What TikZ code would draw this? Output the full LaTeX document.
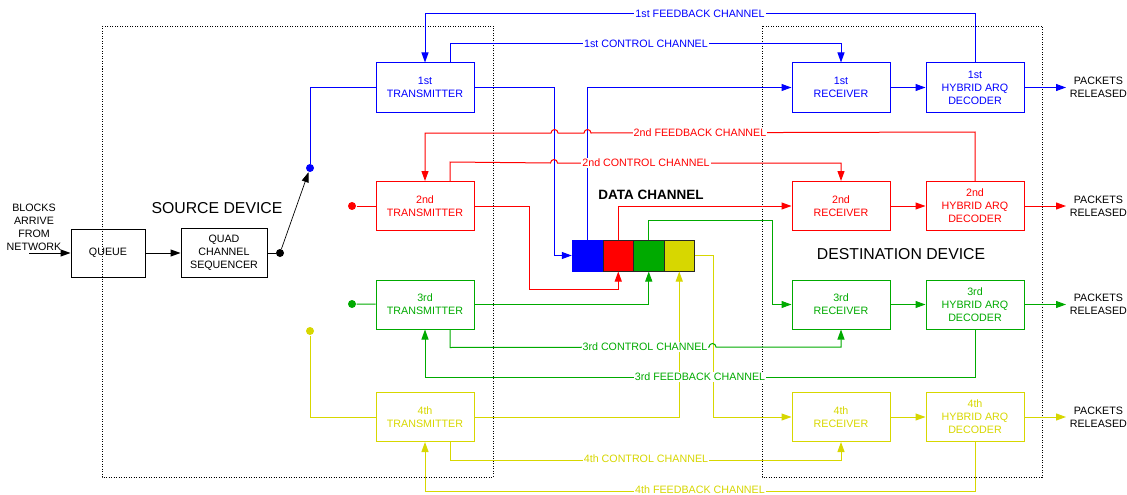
\documentclass[tikz,border=0pt]{standalone}
\usepackage{fontspec}
\setmainfont{Liberation Sans}
\usetikzlibrary{arrows.meta}
\definecolor{chblue}{RGB}{0,0,255}
\definecolor{chred}{RGB}{255,0,0}
\definecolor{chgreen}{RGB}{0,170,0}
\definecolor{chyellow}{RGB}{215,215,0}

\begin{document}
\begin{tikzpicture}[x=1pt,y=-1pt,line width=1pt,
  font=\fontsize{10.7}{13}\selectfont,
  blk/.style={draw,minimum width=98pt,minimum height=49pt,align=center,inner sep=1pt},
  cell/.style={draw=black!85,minimum width=30.5pt,minimum height=31pt,inner sep=0pt},
  arr/.style={-{Triangle[length=10pt,width=7pt]}},
  lab/.style={fill=white,inner sep=1pt},
  big/.style={font=\fontsize{15.8}{18}\selectfont},
  dot/.style={circle,fill,inner sep=0pt,minimum size=8pt}]
\useasboundingbox (0,0) rectangle (1127,495);

% Draw device borders
\draw[dash pattern=on 1pt off 1.5pt,line width=0.8pt] (102,26) rectangle (493,477);
\draw[dash pattern=on 1pt off 1.5pt,line width=0.8pt] (762,26) rectangle (1042,477);
\node[big] (sd) at (217,208) {SOURCE DEVICE};
\node[big] (dd) at (901,254) {DESTINATION DEVICE};

% Queue and sequencer
\node[align=center] (blk) at (34,227.5) {BLOCKS\\ARRIVE\\FROM\\NETWORK};
\coordinate (in) at (29,253);
\node[draw,minimum width=74pt,minimum height=48pt] (q) at (108,253) {QUEUE};
\node[draw,minimum width=86pt,minimum height=49pt,align=center,inner sep=1pt] (seq) at (224,253) {QUAD\\CHANNEL\\SEQUENCER};
\node[dot] (sw) at (280,253) {};
\node[dot,chblue] (p1) at (310,168) {};
\node[dot,chred] (p2) at (352,206) {};
\node[dot,chgreen] (p3) at (352,304) {};
\node[dot,chyellow] (p4) at (310,331) {};
\draw[arr] (in) -- (q);
\draw[arr] (q) -- (seq);
\draw (seq) -- (sw);
\draw[arr,line width=0.7pt] (sw) -- (p1);

% Transmitters
\node[blk,chblue] (tx1) at (425,87.5) {1st\\TRANSMITTER};
\node[blk,chred] (tx2) at (425,206) {2nd\\TRANSMITTER};
\node[blk,chgreen] (tx3) at (425,304.5) {3rd\\TRANSMITTER};
\node[blk,chyellow] (tx4) at (425,417) {4th\\TRANSMITTER};

% Receivers and decoders
\node[blk,chblue] (rx1) at (841,87.5) {1st\\RECEIVER};
\node[blk,chred] (rx2) at (841,206) {2nd\\RECEIVER};
\node[blk,chgreen] (rx3) at (841,304.5) {3rd\\RECEIVER};
\node[blk,chyellow] (rx4) at (841,417) {4th\\RECEIVER};
\node[blk,chblue] (dec1) at (975,87.5) {1st\\HYBRID ARQ\\DECODER};
\node[blk,chred] (dec2) at (975,206) {2nd\\HYBRID ARQ\\DECODER};
\node[blk,chgreen] (dec3) at (975,304.5) {3rd\\HYBRID ARQ\\DECODER};
\node[blk,chyellow] (dec4) at (975,417) {4th\\HYBRID ARQ\\DECODER};
\node[align=center,anchor=west] (out1) at (1066,87.5) {PACKETS\\RELEASED};
\node[align=center,anchor=west] (out2) at (1066,206) {PACKETS\\RELEASED};
\node[align=center,anchor=west] (out3) at (1066,304.5) {PACKETS\\RELEASED};
\node[align=center,anchor=west] (out4) at (1066,417) {PACKETS\\RELEASED};

% Data channel
\node[cell,fill=chblue,draw=chblue] (dc1) at (587.5,255.5) {};
\node[cell,fill=chred] (dc2) at (618.25,255.5) {};
\node[cell,fill=chgreen] (dc3) at (648.75,255.5) {};
\node[cell,fill=chyellow] (dc4) at (679.25,255.5) {};
\node[font=\bfseries\fontsize{13.5}{15}\selectfont] (dch) at (651,195) {DATA CHANNEL};

% Switch outputs
\draw[chblue] (p1) |- (tx1);
\draw[chred] (p2) -- (tx2);
\draw[chgreen] (p3) -- (tx3);
\draw[chyellow] (p4) |- (tx4);

% Into and out of the data channel
\draw[chblue,arr] (tx1.east) -- ++(80,0) |- (dc1.west);
\draw[chblue,arr] (dc1.north) |- (rx1.west);
\draw[chred,arr] (tx2.east) -- ++(55,0) -- ++(0,83) -| (dc2.south);
\draw[chred,arr] (dc2.north) |- (rx2.west);
\draw[chgreen,arr] (tx3.east) -| (dc3.south);
\draw[chgreen,arr] (dc3.north) -- ++(0,-19) -| ([xshift=-19pt]rx3.west) -- (rx3.west);
\draw[chyellow,arr] (tx4.east) -| (dc4.south);
\draw[chyellow,arr] (dc4.east) -- ++(18,0) |- (rx4.west);

% Receiver to decoder to output
\draw[chblue,arr] (rx1) -- (dec1);
\draw[chred,arr] (rx2) -- (dec2);
\draw[chgreen,arr] (rx3) -- (dec3);
\draw[chyellow,arr] (rx4) -- (dec4);
\draw[chblue,arr] (dec1) -- (out1);
\draw[chred,arr] (dec2) -- (out2);
\draw[chgreen,arr] (dec3) -- (out3);
\draw[chyellow,arr] (dec4) -- (out4);

% Control channels
\draw[chblue,arr] ([xshift=25pt]tx1.north) -- ++(0,-19) -| (rx1.north);
\draw[chred,arr] ([xshift=25pt]tx2.north) -- ++(0,-19) -- (550.5,163)
  arc[start angle=180,end angle=0,radius=3.5pt] -| (rx2.north);
\draw[chgreen,arr] ([xshift=25pt]tx3.south) -- ++(0,18) -- (709,347)
  arc[start angle=180,end angle=0,radius=3.5pt] -| (rx3.south);
\draw[chyellow,arr] ([xshift=25pt]tx4.south) -- ++(0,18) -| (rx4.south);

% Feedback channels
\draw[chblue,arr] (dec1.north) -- ++(0,-49) -| (tx1.north);
\draw[chred,arr] (dec2.north) -- ++(0,-49) -- (591,133)
  arc[start angle=0,end angle=180,radius=3.5pt] -- (558,133)
  arc[start angle=0,end angle=180,radius=3.5pt] -| (tx2.north);
\draw[chgreen,arr] (dec3.south) -- ++(0,48) -| (tx3.south);
\draw[chyellow,arr] (dec4.south) -- ++(0,49) -| (tx4.south);

% Labels
\node[lab,text=chblue] (c1) at (646,44) {1st CONTROL CHANNEL};
\node[lab,text=chred] (c2) at (646,163) {2nd CONTROL CHANNEL};
\node[lab,text=chgreen] (c3) at (645,347) {3rd CONTROL CHANNEL};
\node[lab,text=chyellow] (c4) at (646,459) {4th CONTROL CHANNEL};
\node[lab,text=chblue] (f1) at (700,14) {1st FEEDBACK CHANNEL};
\node[lab,text=chred] (f2) at (700,133) {2nd FEEDBACK CHANNEL};
\node[lab,text=chgreen] (f3) at (700,377) {3rd FEEDBACK CHANNEL};
\node[lab,text=chyellow] (f4) at (700,490) {4th FEEDBACK CHANNEL};
\end{tikzpicture}
\end{document}
